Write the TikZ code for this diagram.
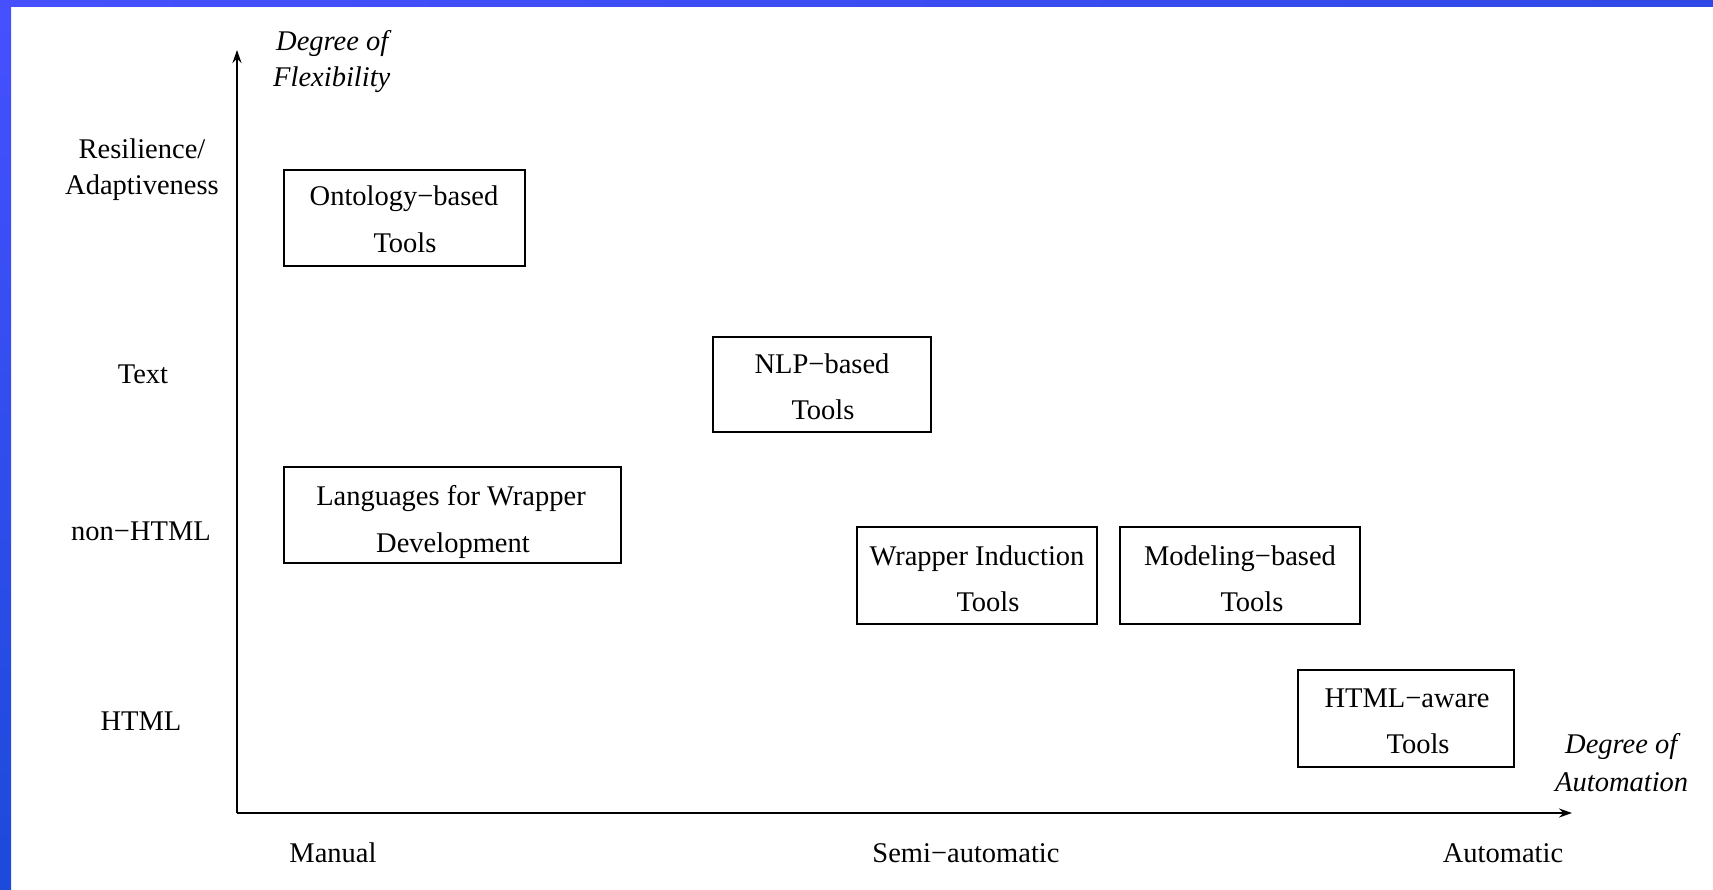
\documentclass[tikz,border=0pt]{standalone}
\usepackage{fontspec}
\setmainfont{Liberation Serif}
\usetikzlibrary{arrows.meta}
\definecolor{bandtop}{HTML}{4650FF}
\definecolor{bandbot}{HTML}{1C4ADA}
\definecolor{bandright}{HTML}{3049E6}
\tikzset{
  box/.style={draw=black, line width=2pt, inner sep=0pt},
  txt/.style={anchor=base, inner sep=0pt, font=\fontsize{28.5}{34}\selectfont},
  itxt/.style={anchor=base west, inner sep=0pt, font=\fontsize{28.5}{34}\selectfont\itshape},
  axis/.style={line width=2.2pt, -{Stealth[length=13pt,width=9pt]}}
}
\begin{document}
\begin{tikzpicture}[x=1pt,y=-1pt]
\useasboundingbox (0,0) rectangle (1713,889);
\fill[white] (0,0) rectangle (1713,889);
% blue frame
\shade[left color=bandtop, right color=bandright] (0,0) rectangle (1713,6);
\shade[top color=bandtop, bottom color=bandbot] (0,0) rectangle (11,889);

% axes
\coordinate (O) at (237,813);
\coordinate (ytop) at (237,50);
\coordinate (xend) at (1572,813);
\draw[axis] (O) -- (ytop);
\draw[axis] (O) -- (xend);

% axis titles
\node[itxt] (yt1) at (276,50) {Degree of};
\node[itxt] (yt2) at (273,86) {Flexibility};
\node[itxt] (xt1) at (1565,753) {Degree of};
\node[itxt] (xt2) at (1555,791) {Automation};

% y labels
\node[txt] (ry1) at (142,158) {Resilience/};
\node[txt] (ry2) at (142,194) {Adaptiveness};
\node[txt] (ty) at (143,383) {Text};
\node[txt] (ny) at (141,540) {non−HTML};
\node[txt] (hy) at (141,730) {HTML};

% x labels
\node[txt] (mx) at (333,862) {Manual};
\node[txt] (sx) at (966,862) {Semi−automatic};
\node[txt] (ax) at (1503,862) {Automatic};

% boxes
\node[box, minimum width=241pt, minimum height=96pt] (onto) at (404.5,218) {};
\node[txt] (onto1) at (404,205) {Ontology−based};
\node[txt] (onto2) at (405,252) {Tools};

\node[box, minimum width=218pt, minimum height=95pt] (nlp) at (822,384.5) {};
\node[txt] (nlp1) at (822,373) {NLP−based};
\node[txt] (nlp2) at (823,419) {Tools};

\node[box, minimum width=337pt, minimum height=96pt] (lang) at (452.5,515) {};
\node[txt] (lang1) at (451,505) {Languages for Wrapper};
\node[txt] (lang2) at (453,552) {Development};

\node[box, minimum width=240pt, minimum height=97pt] (wi) at (976.5,575.5) {};
\node[txt] (wi1) at (977,565) {Wrapper Induction};
\node[txt] (wi2) at (988,611) {Tools};

\node[box, minimum width=240pt, minimum height=97pt] (mod) at (1240,575.5) {};
\node[txt] (mod1) at (1240,565) {Modeling−based};
\node[txt] (mod2) at (1252,611) {Tools};

\node[box, minimum width=216pt, minimum height=97pt] (html) at (1406,718.5) {};
\node[txt] (html1) at (1407,707) {HTML−aware};
\node[txt] (html2) at (1418,753) {Tools};
\end{tikzpicture}
\end{document}
